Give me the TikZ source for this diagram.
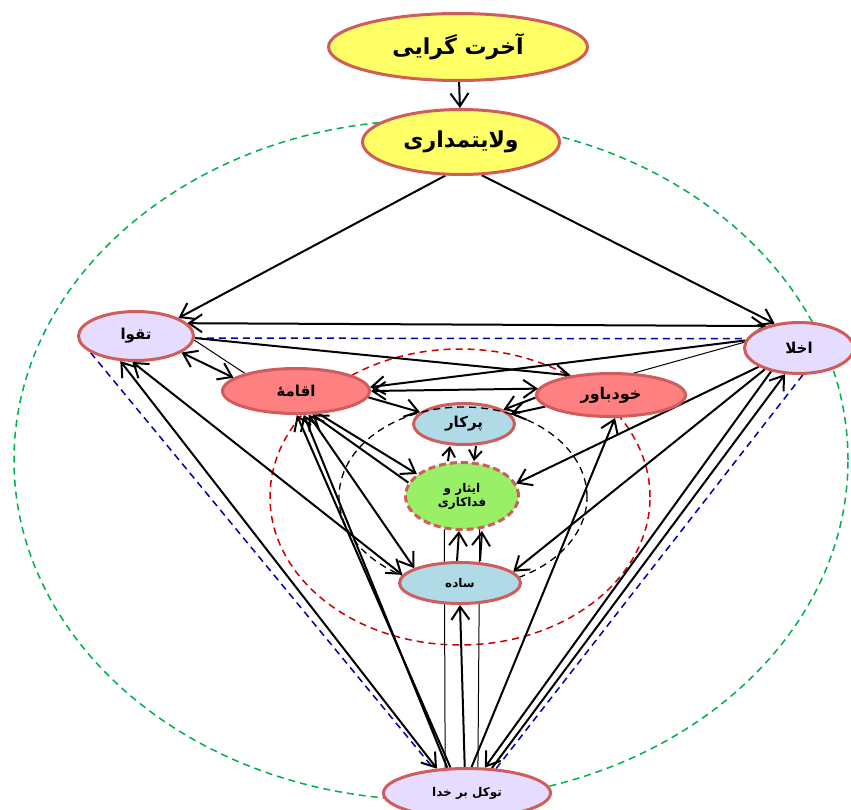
\documentclass[tikz,border=0pt]{standalone}
\usepackage{fontspec}
\newfontfamily\arabicfont[Script=Arabic]{DejaVu Sans}
\TeXXeTstate=1
\usetikzlibrary{shapes.geometric,arrows.meta}
\pgfdeclarelayer{bg}
\pgfsetlayers{bg,main}
\definecolor{bordc}{RGB}{208,92,92}
\definecolor{yel}{RGB}{255,255,102}
\definecolor{pinkf}{RGB}{255,128,128}
\definecolor{lav}{RGB}{230,220,255}
\definecolor{lblue}{RGB}{176,218,230}
\definecolor{lgreen}{RGB}{153,240,102}
\definecolor{dgreen}{RGB}{0,176,80}
\definecolor{dred}{RGB}{204,0,0}
\definecolor{dblue}{RGB}{0,0,170}
\newcommand{\fa}[1]{\beginR #1\endR}
\newcommand{\fsz}[1]{\arabicfont\bfseries\fontsize{#1}{#1}\selectfont}
\tikzset{
  ell/.style={ellipse, draw=bordc, line width=3pt, inner sep=0pt, align=center},
  arr/.style={-{Straight Barb[length=13pt,width=18pt]}, line width=2pt},
  dbl/.style={{Straight Barb[length=13pt,width=18pt]}-{Straight Barb[length=13pt,width=18pt]}, line width=2pt},
  sarr/.style={-{Straight Barb[length=9pt,width=13pt]}, line width=2pt},
  thinl/.style={line width=1pt},
  gdash/.style={dgreen, line width=1.5pt, dash pattern=on 7pt off 5pt},
  rdash/.style={dred, line width=1.5pt, dash pattern=on 7pt off 5pt},
  kdash/.style={black, line width=1.3pt, dash pattern=on 7pt off 5pt},
  bdash/.style={dblue, line width=1.5pt, dash pattern=on 7pt off 5pt}
}
\begin{document}
\begin{tikzpicture}[x=1pt,y=-1pt]
\useasboundingbox (0,0) rectangle (851,809);
% nodes
\node[ell, fill=yel, minimum width=259pt, minimum height=67pt, font=\fsz{22pt}] (A) at (458,47) {\fa{آخرت گرایی}};
\node[ell, fill=yel, minimum width=197pt, minimum height=65pt, font=\fsz{22pt}] (B) at (461,142) {\fa{ولایتمداری}};
\node[ell, fill=lav, minimum width=115pt, minimum height=49pt, font=\fsz{15pt}] (T) at (136,336) {\fa{تقوا}};
\node[ell, fill=lav, minimum width=109pt, minimum height=51pt, font=\fsz{15pt}] (K) at (799,348) {\fa{اخلا}};
\node[ell, fill=pinkf, minimum width=147pt, minimum height=45pt, font=\fsz{15pt}] (E) at (296,391) {\fa{اقامهٔ}};
\node[ell, fill=pinkf, minimum width=149pt, minimum height=43pt, font=\fsz{16pt}] (D) at (611,395) {\fa{خودباور}};
\node[ell, fill=lgreen, dash pattern=on 7pt off 4pt, minimum width=113pt, minimum height=67pt, font=\fsz{12pt}] (I) at (462,496) {\fa{ایثار و}\\[1pt]\fa{فداکاری}};
\node[ell, fill=lblue, minimum width=101pt, minimum height=41pt, font=\fsz{15pt}] (P) at (464,424) {\fa{پرکار}};
\draw[kdash] (463,497) ellipse [x radius=124pt, y radius=90pt];
\node[ell, fill=lblue, minimum width=121pt, minimum height=41pt, font=\fsz{12pt}] (S) at (460,583) {\fa{ساده}};
\node[ell, fill=lav, minimum width=167pt, minimum height=49pt, font=\fsz{12pt}] (V) at (467,793) {\fa{توکل بر خدا}};
\begin{pgfonlayer}{bg}
\fill[white] (0,0) rectangle (851,809);
\draw[gdash] (431,460) ellipse [x radius=417pt, y radius=340pt];
\draw[rdash] (460,497) ellipse [x radius=190pt, y radius=148pt];
\draw[bdash] (T.358) -- (K.170);
\draw[bdash] (T.200) -- (V.144);
\draw[bdash] (K.278) -- (V.40);
% arrows
\draw[arr] (A) -- (B);
\draw[arr] (B.245) -- (T.23);
\draw[arr] (B.302) -- (K.135);
\draw[dbl] (T.14) -- (K.146);
\draw[arr] (T.358) -- (D.154);
\draw[arr] (K.172) -- (E.3);
\draw[thinl] (T.356) -- (E.161);
\draw[thinl] (K.174) -- (D.44);
\draw[dbl] (T.340) -- (E.168);
\draw[dbl] (E.east) -- (D.175);
\draw[arr] (E.355) -- (P.165);
\draw[arr] (D.182) -- (P.20);
\draw[arr] (D.190) -- (P.12);
\draw[sarr] ([xshift=-14pt]I.north) -- ([xshift=-14pt]P.south);
\draw[sarr] ([xshift=12pt]P.south) -- ([xshift=12pt]I.north);
\draw[arr] (E.315) -- (I.154);
\draw[arr] (I.166) -- (E.305);
\draw[dbl] (E.298) -- (S.162);
\draw[dbl] (T.262) -- (S.172);
\draw[dbl] (T.238) -- (V.141);
\draw[arr] (V.123) -- (E.272);
\draw[arr] (V.128) -- (E.288);
\draw[arr] (K.205) -- (I.13);
\draw[arr] (K.212) -- (S.12);
\draw[arr] (K.220) -- (V.55);
\draw[arr] (V.45) -- (K.242);
\draw[arr] (V.80) -- (D.280);
\draw[arr] (V.95) -- (S.south);
\draw[thinl] (V.131) -- (I.242);
\draw[thinl] (V.67) -- (I.298);
\draw[arr] ([xshift=-3pt]S.north) -- ([xshift=-3pt]I.south);
\draw[arr] ([xshift=20pt]S.north) -- ([xshift=20pt]I.south);
\end{pgfonlayer}
\end{tikzpicture}
\end{document}
